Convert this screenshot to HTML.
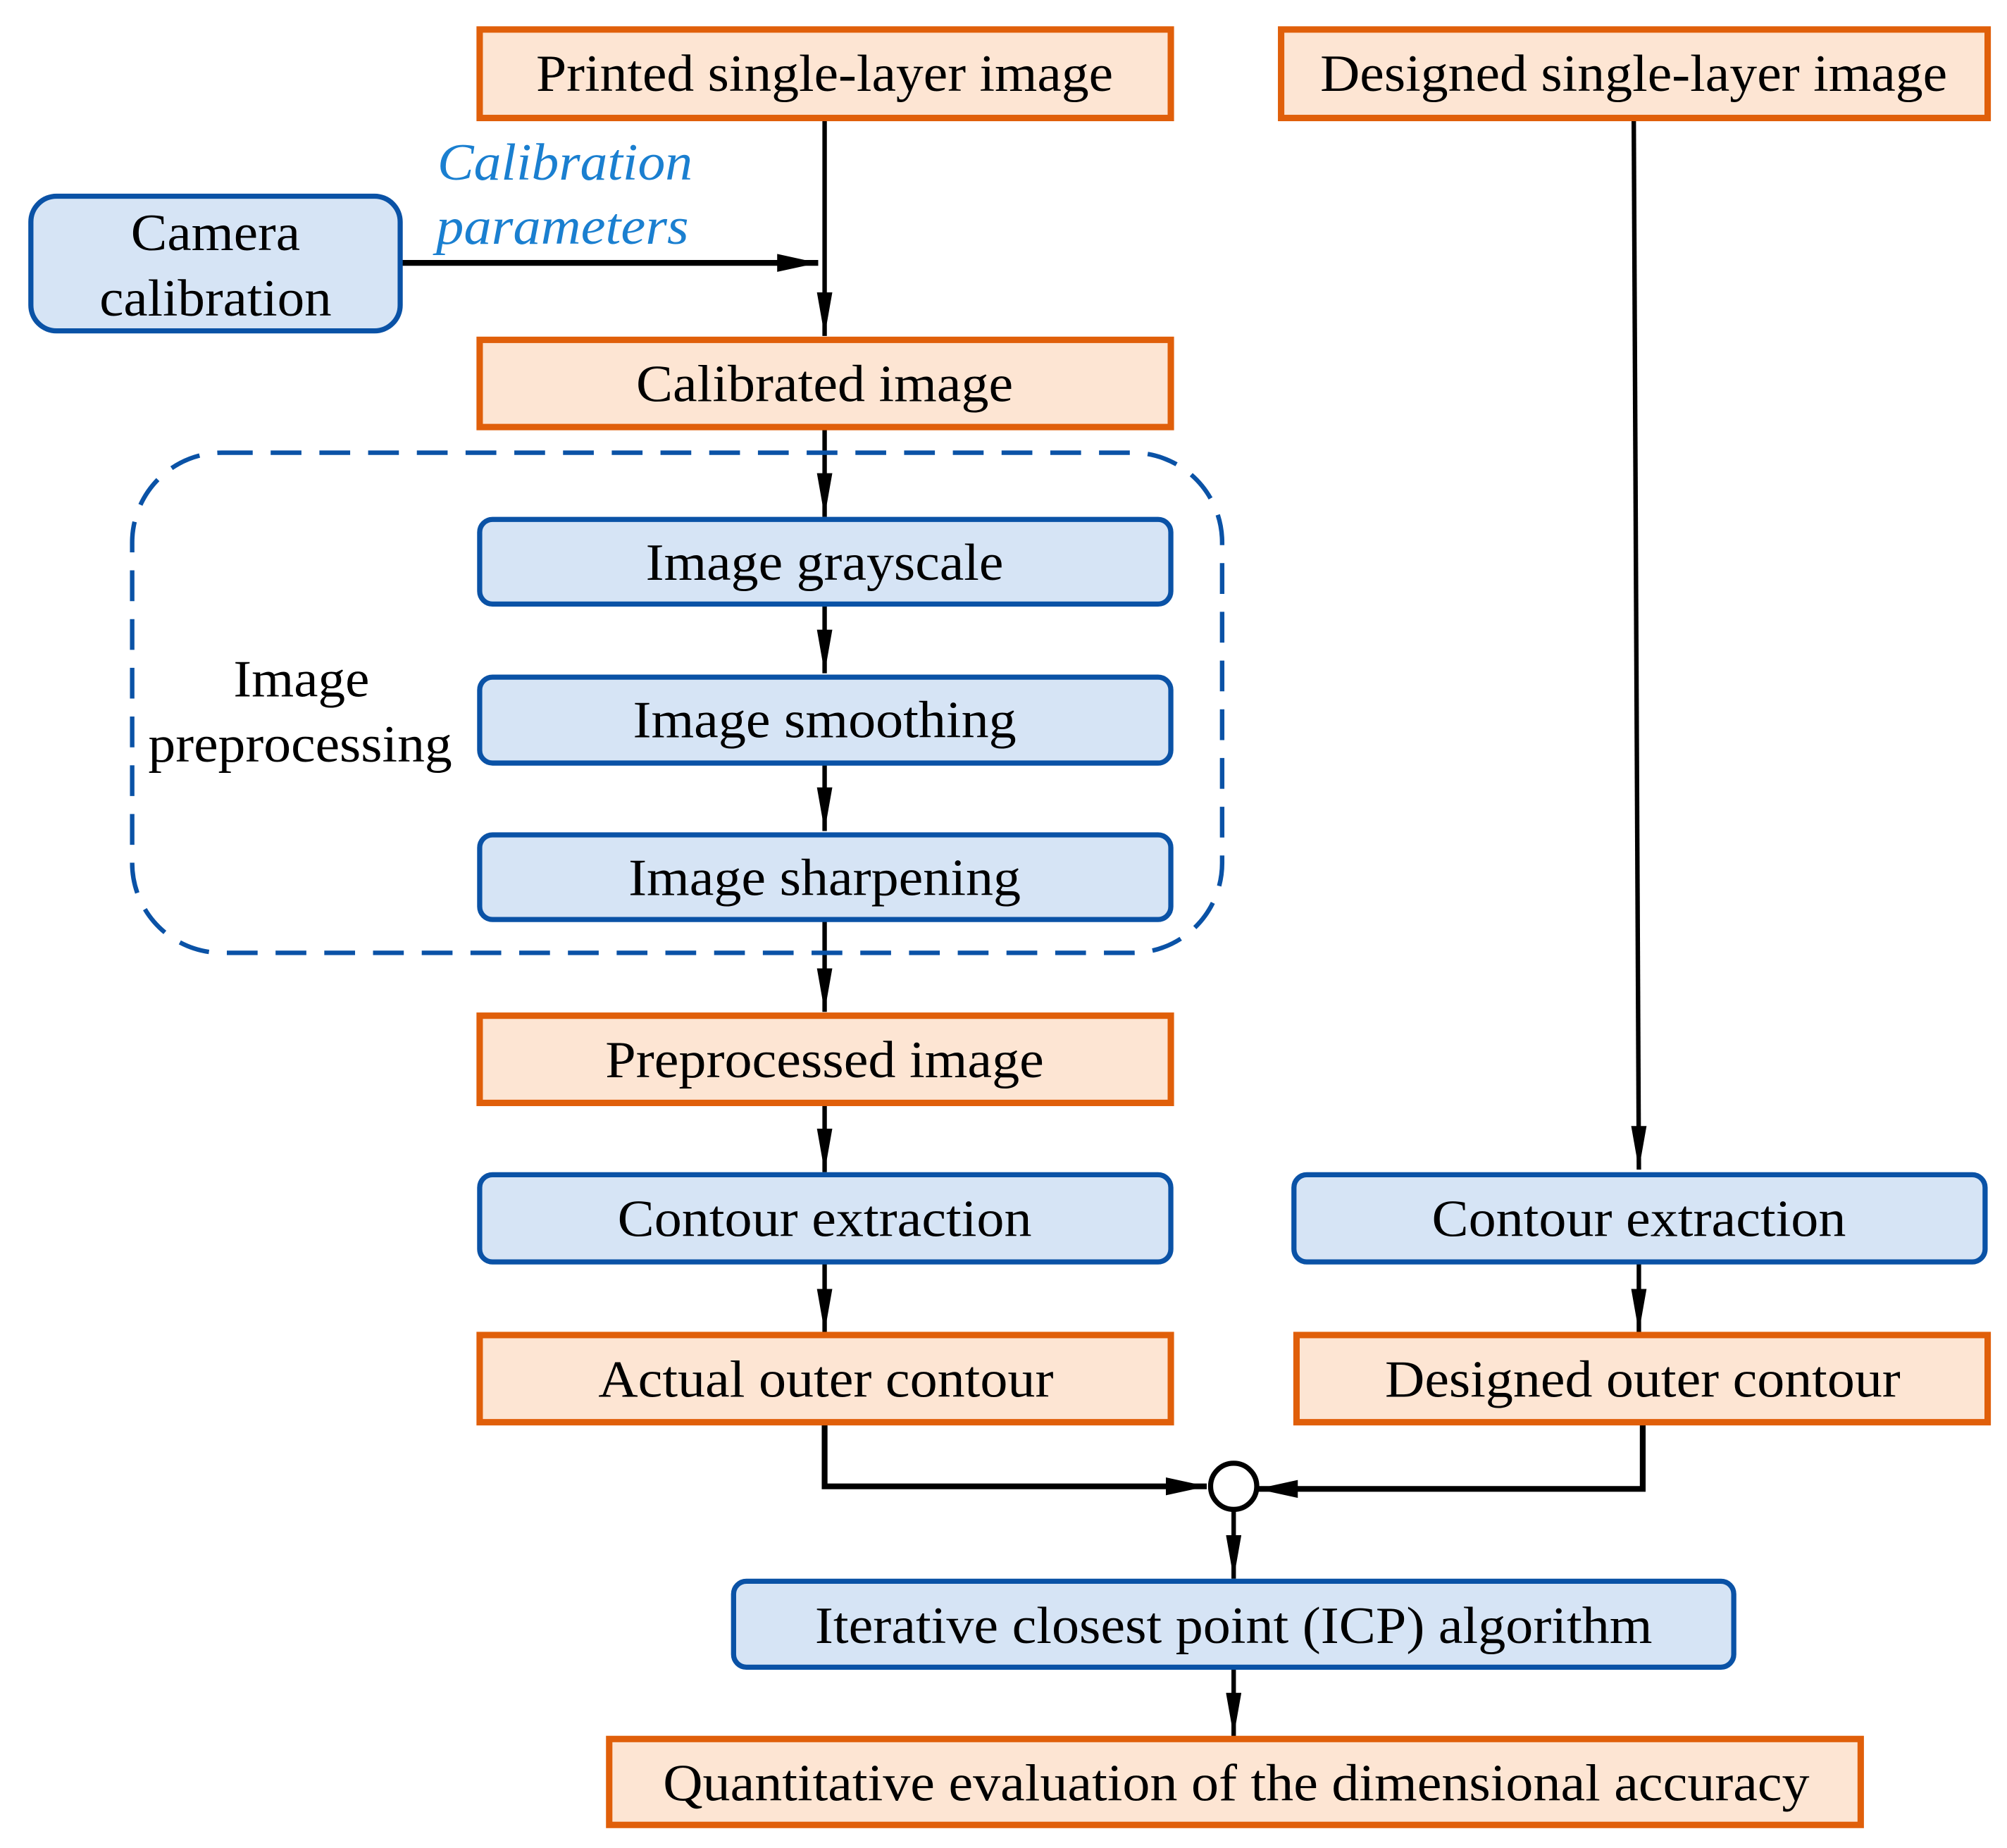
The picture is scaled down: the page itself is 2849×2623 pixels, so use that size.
<!DOCTYPE html>
<html><head><meta charset="utf-8"><style>
html,body{margin:0;padding:0;background:#fff}
svg{display:block}
text{font-family:"Liberation Serif",serif;font-size:41px;fill:#000}
.o{fill:#fde5d3;stroke:#e05f0a;stroke-width:5}
.b{fill:#d6e4f5;stroke:#0a52a6;stroke-width:4}
.l{stroke:#000;stroke-width:3.5;fill:none}
</style></head><body>
<svg width="2849" height="2623" viewBox="0 0 1565 1441" xmlns="http://www.w3.org/2000/svg">
<defs>
<marker id="v" viewBox="0 0 12 34" refX="6" refY="34" markerWidth="12" markerHeight="34" markerUnits="userSpaceOnUse" orient="0"><path d="M0,0L12,0L6,34z" fill="#000"/></marker>
<marker id="h" viewBox="0 0 32 14" refX="32" refY="7" markerWidth="32" markerHeight="14" markerUnits="userSpaceOnUse" orient="auto"><path d="M0,0L32,7L0,14z" fill="#000"/></marker></defs>

<line class="l" x1="643" y1="92" x2="643" y2="262" marker-end="url(#v)"/>
<line x1="313" y1="205" x2="638" y2="205" stroke="#000" stroke-width="4.5" marker-end="url(#h)"/>
<line class="l" x1="643" y1="333" x2="643" y2="403" marker-end="url(#v)"/>
<line class="l" x1="643" y1="471" x2="643" y2="525" marker-end="url(#v)"/>
<line class="l" x1="643" y1="595" x2="643" y2="648" marker-end="url(#v)"/>
<line class="l" x1="643" y1="717" x2="643" y2="789" marker-end="url(#v)"/>
<line class="l" x1="643" y1="860" x2="643" y2="914" marker-end="url(#v)"/>
<line class="l" x1="643" y1="984" x2="643" y2="1039" marker-end="url(#v)"/>
<line class="l" x1="1274" y1="92" x2="1278" y2="912" marker-end="url(#v)"/>
<line class="l" x1="1278" y1="984" x2="1278" y2="1039" marker-end="url(#v)"/>
<path d="M643,1109 V1159 H941" stroke="#000" stroke-width="4.5" fill="none" marker-end="url(#h)"/>
<path d="M1281,1109 V1161 H980" stroke="#000" stroke-width="4.5" fill="none" marker-end="url(#h)"/>
<line class="l" x1="962" y1="1178" x2="962" y2="1231" marker-end="url(#v)"/>
<line class="l" x1="962" y1="1300" x2="962" y2="1354" marker-end="url(#v)"/>
<circle cx="962" cy="1159" r="18" fill="#fff" stroke="#000" stroke-width="4"/>

<rect x="103" y="353" width="850" height="390" rx="70" fill="none" stroke="#0a52a6" stroke-width="3.5" stroke-dasharray="24,14"/>

<rect class="o" x="374" y="23" width="539" height="69"/>
<text x="643" y="71" text-anchor="middle" textLength="450" lengthAdjust="spacingAndGlyphs">Printed single-layer image</text>
<rect class="o" x="999" y="23" width="551" height="69"/>
<text x="1274" y="71" text-anchor="middle" textLength="489" lengthAdjust="spacingAndGlyphs">Designed single-layer image</text>

<rect class="b" x="24" y="153" width="288" height="105" rx="20"/>
<text x="168" y="195" text-anchor="middle" textLength="132" lengthAdjust="spacingAndGlyphs">Camera</text>
<text x="168" y="246" text-anchor="middle" textLength="181" lengthAdjust="spacingAndGlyphs">calibration</text>
<text x="341" y="140" font-style="italic" style="fill:#1a7fd0" textLength="199" lengthAdjust="spacingAndGlyphs">Calibration</text>
<text x="340" y="190" font-style="italic" style="fill:#1a7fd0" textLength="197" lengthAdjust="spacingAndGlyphs">parameters</text>

<rect class="o" x="374" y="265" width="539" height="68"/>
<text x="643" y="313" text-anchor="middle" textLength="294" lengthAdjust="spacingAndGlyphs">Calibrated image</text>

<rect class="b" x="374" y="405" width="539" height="66" rx="10"/>
<text x="643" y="452" text-anchor="middle" textLength="279" lengthAdjust="spacingAndGlyphs">Image grayscale</text>
<rect class="b" x="374" y="528" width="539" height="67" rx="10"/>
<text x="643" y="575" text-anchor="middle" textLength="299" lengthAdjust="spacingAndGlyphs">Image smoothing</text>
<rect class="b" x="374" y="651" width="539" height="66" rx="10"/>
<text x="643" y="698" text-anchor="middle" textLength="306" lengthAdjust="spacingAndGlyphs">Image sharpening</text>
<text x="235" y="543" text-anchor="middle" textLength="106" lengthAdjust="spacingAndGlyphs">Image</text>
<text x="234" y="594" text-anchor="middle" textLength="237" lengthAdjust="spacingAndGlyphs">preprocessing</text>

<rect class="o" x="374" y="792" width="539" height="68"/>
<text x="643" y="840" text-anchor="middle" textLength="342" lengthAdjust="spacingAndGlyphs">Preprocessed image</text>

<rect class="b" x="374" y="916" width="539" height="68" rx="10"/>
<text x="643" y="964" text-anchor="middle" textLength="323" lengthAdjust="spacingAndGlyphs">Contour extraction</text>
<rect class="b" x="1009" y="916" width="539" height="68" rx="10"/>
<text x="1278" y="964" text-anchor="middle" textLength="323" lengthAdjust="spacingAndGlyphs">Contour extraction</text>

<rect class="o" x="374" y="1041" width="539" height="68"/>
<text x="644" y="1089" text-anchor="middle" textLength="355" lengthAdjust="spacingAndGlyphs">Actual outer contour</text>
<rect class="o" x="1011" y="1041" width="539" height="68"/>
<text x="1281" y="1089" text-anchor="middle" textLength="402" lengthAdjust="spacingAndGlyphs">Designed outer contour</text>

<rect class="b" x="572" y="1233" width="780" height="67" rx="10"/>
<text x="962" y="1281" text-anchor="middle" textLength="653" lengthAdjust="spacingAndGlyphs">Iterative closest point (ICP) algorithm</text>

<rect class="o" x="475" y="1356" width="976" height="67"/>
<text x="964" y="1404" text-anchor="middle" textLength="894" lengthAdjust="spacingAndGlyphs">Quantitative evaluation of the dimensional accuracy</text>
</svg>
</body></html>
